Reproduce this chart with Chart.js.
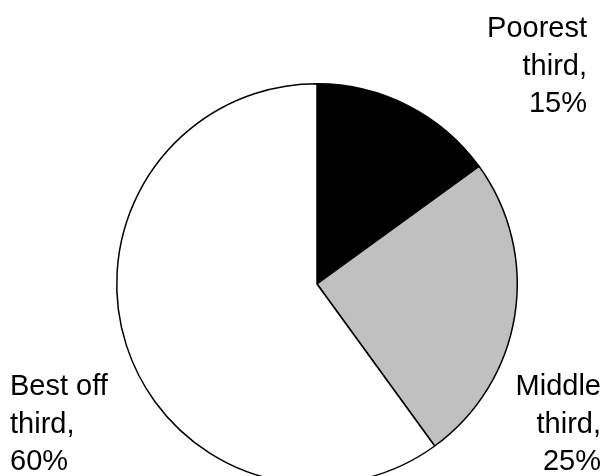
<!DOCTYPE html>
<html>
<head>
<meta charset="utf-8">
<script src="https://cdn.jsdelivr.net/npm/chart.js@4/dist/chart.umd.min.js"></script>
<style>
  html, body { margin: 0; padding: 0; background: #fff; overflow: hidden; }
  #wrap { position: relative; width: 611px; height: 568px; }
</style>
</head>
<body>
<div id="wrap"><canvas id="pie"></canvas></div>
<script>
const categories = ['Poorest third', 'Middle third', 'Best off third'];
const shares = [15, 25, 60];
const sliceColors = ['#000000', '#c0c0c0', '#ffffff'];

// label text, split into lines like the original
const labelLines = [
    ['Poorest', 'third,', '15%'],
    ['Middle', 'third,', '25%'],
    ['Best off', 'third,', '60%']
];

// where each label block sits (x, first baseline, alignment)
const labelSpots = [
    { x: 587, y: 37, align: 'right' },
    { x: 601, y: 395, align: 'right' },
    { x: 10, y: 395, align: 'left' }
];

const sliceLabels = {
    id: 'sliceLabels',
    afterDraw(chart) {
        const ctx = chart.ctx;
        ctx.save();
        ctx.fillStyle = '#000';
        ctx.font = '29px "Liberation Sans", Arial, sans-serif';
        ctx.textBaseline = 'alphabetic';
        labelLines.forEach((lines, i) => {
            const spot = labelSpots[i];
            ctx.textAlign = spot.align;
            lines.forEach((line, j) => {
                ctx.fillText(line, spot.x, spot.y + j * 37.5);
            });
        });
        ctx.restore();
    }
};

new Chart(document.getElementById('pie'), {
    type: 'pie',
    data: {
        labels: categories,
        datasets: [{
            data: shares,
            backgroundColor: sliceColors,
            borderColor: '#000',
            borderWidth: 1.5,
            clip: false
        }]
    },
    options: {
        responsive: true,
        maintainAspectRatio: false,
        animation: false,
        layout: { padding: { left: 116, right: 93, top: 83, bottom: 83 } },
        plugins: {
            legend: { display: false },
            tooltip: { enabled: false }
        }
    },
    plugins: [sliceLabels]
});
</script>
</body>
</html>
